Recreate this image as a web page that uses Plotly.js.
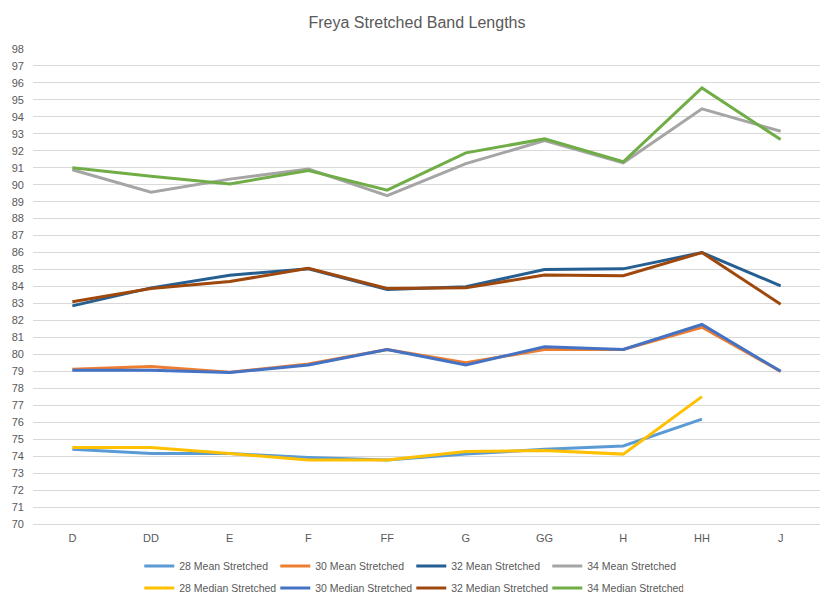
<!DOCTYPE html>
<html>
<head>
<meta charset="utf-8">
<script src="https://cdn.plot.ly/plotly-3.0.1.min.js"></script>
<style>
  html, body { margin: 0; padding: 0; background: #fff; }
  #chart { width: 834px; height: 607px; }
</style>
</head>
<body>
<div id="chart"></div>
<script>
// Band lengths per cup size
const cups = ['D', 'DD', 'E', 'F', 'FF', 'G', 'GG', 'H', 'HH', 'J'];

const mean28   = [74.4, 74.15, 74.15, 73.92, 73.78, 74.12, 74.4, 74.6, 76.18, null];
const mean30   = [79.12, 79.29, 78.95, 79.43, 80.28, 79.5, 80.29, 80.29, 81.6, 79.0];
const mean32   = [82.86, 83.92, 84.66, 85.05, 83.82, 83.98, 85.0, 85.04, 86.0, 84.04];
const mean34   = [90.88, 89.56, 90.33, 90.92, 89.35, 91.24, 92.6, 91.29, 94.47, 93.15];
const median28 = [74.51, 74.51, 74.16, 73.77, 73.77, 74.27, 74.33, 74.12, 77.51, null];
const median30 = [79.06, 79.06, 78.93, 79.37, 80.28, 79.37, 80.45, 80.29, 81.76, 79.0];
const median32 = [83.1, 83.88, 84.29, 85.08, 83.88, 83.92, 84.68, 84.64, 86.0, 82.96];
const median34 = [91.0, 90.5, 90.05, 90.84, 89.68, 91.88, 92.7, 91.35, 95.7, 92.66];

const yTicks = [];
for (let v = 70; v <= 98; v++) yTicks.push(v);

const series = [
  { name: '28 Mean Stretched',   y: mean28,   color: '#5B9BD5', legend: 'legend' },
  { name: '30 Mean Stretched',   y: mean30,   color: '#ED7D31', legend: 'legend' },
  { name: '32 Mean Stretched',   y: mean32,   color: '#255E91', legend: 'legend' },
  { name: '34 Mean Stretched',   y: mean34,   color: '#A5A5A5', legend: 'legend' },
  { name: '28 Median Stretched', y: median28, color: '#FFC000', legend: 'legend2' },
  { name: '30 Median Stretched', y: median30, color: '#4472C4', legend: 'legend2' },
  { name: '32 Median Stretched', y: median32, color: '#9E480E', legend: 'legend2' },
  { name: '34 Median Stretched', y: median34, color: '#70AD47', legend: 'legend2' },
];

const traces = series.map(s => ({
  x: cups,
  y: s.y,
  type: 'scatter',
  mode: 'lines',
  name: s.name,
  legend: s.legend,
  connectgaps: false,
  line: { color: s.color, width: 3 },
}));

const FONT = 'Liberation Sans, Arial, sans-serif';
// entrywidth counts text only; the line sample adds ~45px per entry
const legendStyle = {
  orientation: 'h',
  xref: 'container',
  yref: 'container',
  xanchor: 'left',
  x: 0.167,
  entrywidth: 91,
  entrywidthmode: 'pixels',
  itemwidth: 30,
  font: { size: 10.5, color: '#595959', family: FONT },
  bgcolor: 'rgba(0,0,0,0)',
  tracegroupgap: 0,
};

const layout = {
  width: 834,
  height: 607,
  title: {
    text: 'Freya Stretched Band Lengths',
    font: { size: 16, color: '#595959', family: FONT },
    x: 0.5,
    xanchor: 'center',
    y: 0.963,
    yanchor: 'middle',
  },
  paper_bgcolor: '#fff',
  plot_bgcolor: '#fff',
  font: { family: FONT, color: '#595959', size: 11 },
  margin: { l: 33, r: 14, t: 49, b: 83 },
  xaxis: {
    type: 'category',
    range: [-0.5, 9.5],
    showgrid: false,
    showline: true,
    linecolor: '#D9D9D9',
    ticks: '',
    ticklabelstandoff: 4,
    tickfont: { size: 11, color: '#595959' },
    fixedrange: true,
  },
  yaxis: {
    range: [70, 98],
    tickvals: yTicks,
    ticktext: yTicks.map(String),
    showgrid: true,
    gridcolor: '#D9D9D9',
    gridwidth: 1,
    zeroline: false,
    showline: false,
    ticks: '',
    ticklabelstandoff: 8,
    tickfont: { size: 11, color: '#595959' },
    fixedrange: true,
  },
  showlegend: true,
  legend: Object.assign({}, legendStyle, { y: 0.0675, yanchor: 'middle' }),
  legend2: Object.assign({}, legendStyle, { y: 0.0313, yanchor: 'middle' }),
};

Plotly.newPlot('chart', traces, layout, { displayModeBar: false, responsive: false });
</script>
</body>
</html>
